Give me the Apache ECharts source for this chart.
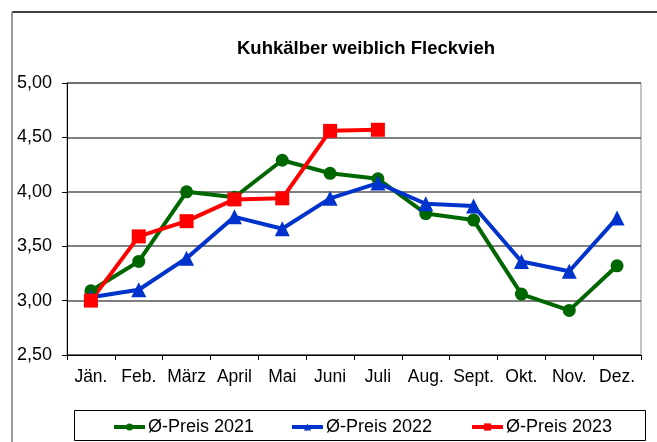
<!DOCTYPE html>
<html>
<head>
<meta charset="utf-8">
<script src="https://cdn.jsdelivr.net/npm/echarts@6/dist/echarts.min.js"></script>
<style>
html,body{margin:0;padding:0;background:#fff;}
#chart{width:657px;height:442px;}
</style>
</head>
<body>
<div id="chart"></div>
<script>
const titleText = 'Kuhkälber weiblich Fleckvieh';
const categories = ['Jän.', 'Feb.', 'März', 'April', 'Mai', 'Juni', 'Juli', 'Aug.', 'Sept.', 'Okt.', 'Nov.', 'Dez.'];
const seriesNames = ['Ø-Preis 2021', 'Ø-Preis 2022', 'Ø-Preis 2023'];
const preis2021 = [3.09, 3.36, 4.00, 3.95, 4.29, 4.17, 4.12, 3.80, 3.74, 3.06, 2.91, 3.32];
const preis2022 = [3.03, 3.10, 3.39, 3.77, 3.66, 3.94, 4.08, 3.89, 3.87, 3.36, 3.27, 3.76];
const preis2023 = [3.00, 3.59, 3.73, 3.93, 3.94, 4.56, 4.57];
const yMin = 2.5, yMax = 5.0, yStep = 0.5;

const FONT = "'Liberation Sans', Arial, sans-serif";
const chart = echarts.init(document.getElementById('chart'), null, {renderer: 'canvas'});

function legendFor(name, left) {
  return {
    data: [name], left: left, top: 418, padding: 0,
    itemWidth: 31, itemHeight: 9, itemGap: 0,
    lineStyle: {width: 4},
    textStyle: {fontFamily: FONT, fontSize: 18, color: '#000', padding: [0, 0, 0, -2]},
    selectedMode: false
  };
}

chart.setOption({
  animation: false,
  backgroundColor: '#fff',
  title: {
    text: titleText, left: 237, top: 39, padding: 0,
    textStyle: {fontFamily: FONT, fontSize: 18.5, fontWeight: 'bold', color: '#000'}
  },
  grid: {
    left: 67, right: 16, top: 83, bottom: 87,
    show: true, borderColor: '#888', borderWidth: 1, backgroundColor: 'transparent'
  },
  legend: [legendFor(seriesNames[0], 112), legendFor(seriesNames[1], 290), legendFor(seriesNames[2], 470)],
  graphic: [
    {type: 'line', shape: {x1: 12, y1: 12, x2: 657, y2: 12}, style: {stroke: '#000', lineWidth: 1.5}, z: 10},
    {type: 'line', shape: {x1: 12, y1: 12, x2: 12, y2: 442}, style: {stroke: '#777', lineWidth: 1.5}, z: 10},
    {type: 'rect', shape: {x: 74.5, y: 410.5, width: 571, height: 30}, style: {fill: 'none', stroke: '#000', lineWidth: 1}, z: 10}
  ],
  xAxis: {
    type: 'category', data: categories, boundaryGap: true,
    axisLine: {lineStyle: {color: '#000', width: 1}},
    axisTick: {show: true, alignWithLabel: false, length: 5, lineStyle: {color: '#000'}},
    axisLabel: {fontFamily: FONT, fontSize: 17.5, color: '#000', margin: 13, interval: 0},
    splitLine: {show: false}
  },
  yAxis: {
    type: 'value', min: yMin, max: yMax, interval: yStep,
    axisLine: {show: true, lineStyle: {color: '#000', width: 1}},
    axisTick: {show: true, length: 5, lineStyle: {color: '#000'}},
    axisLabel: {fontFamily: FONT, fontSize: 18, color: '#000', margin: 15,
      formatter: v => v.toFixed(2).replace('.', ',')},
    splitLine: {show: true, lineStyle: {color: '#555', width: 1.5}}
  },
  series: [
    {name: seriesNames[0], type: 'line', data: preis2021, symbol: 'circle', symbolSize: 13,
      lineStyle: {color: '#006600', width: 4}, itemStyle: {color: '#006600'}},
    {name: seriesNames[1], type: 'line', data: preis2022, symbol: 'triangle', symbolSize: 15,
      lineStyle: {color: '#0033cc', width: 4}, itemStyle: {color: '#0033cc'}},
    {name: seriesNames[2], type: 'line', data: preis2023, symbol: 'rect', symbolSize: 14,
      lineStyle: {color: '#ff0000', width: 4}, itemStyle: {color: '#ff0000'}}
  ]
});
</script>
</body>
</html>
